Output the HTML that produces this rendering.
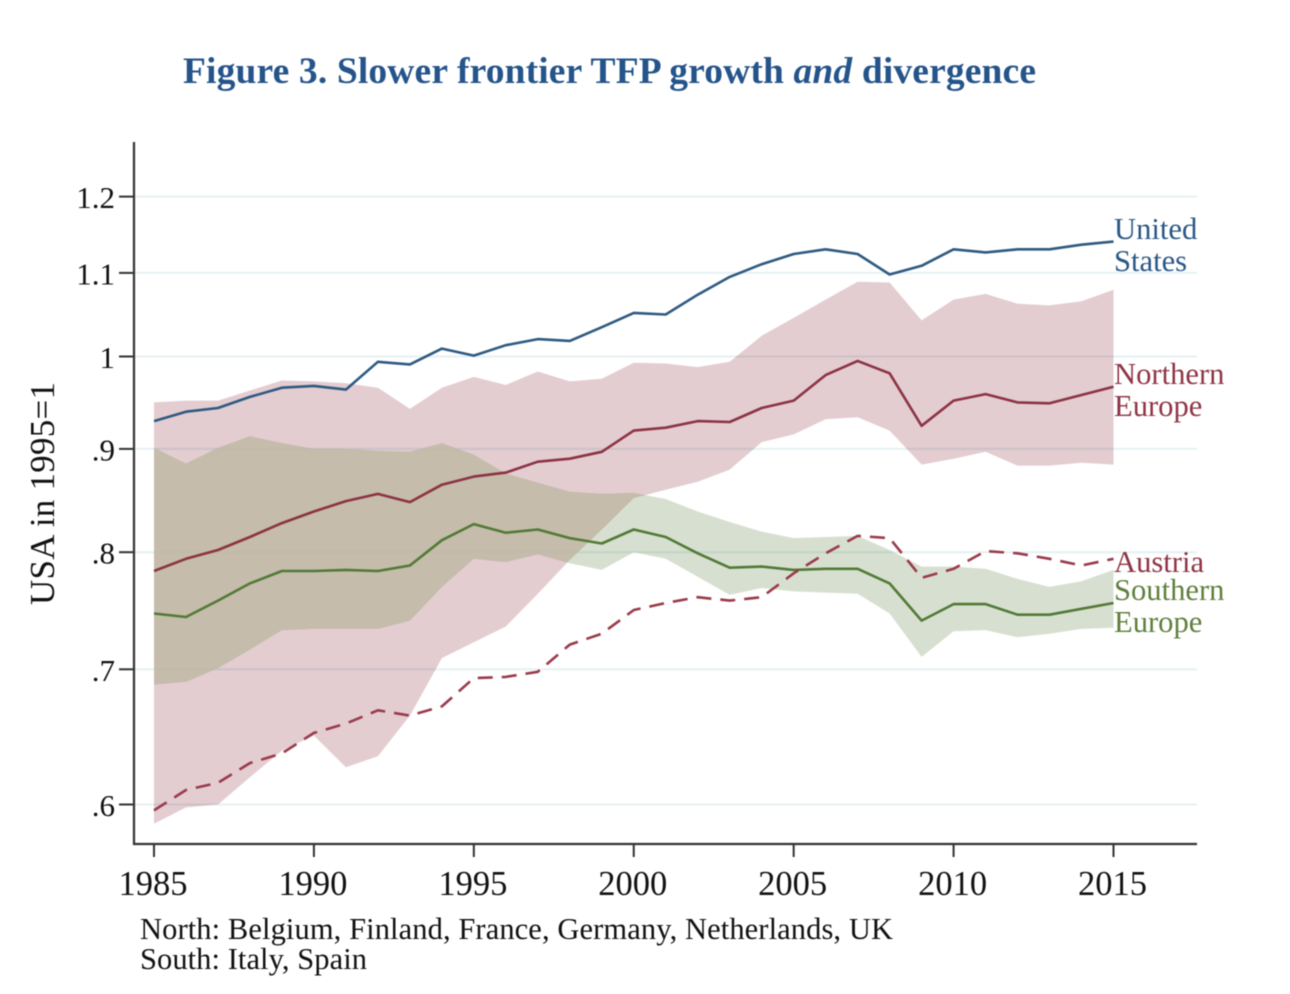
<!DOCTYPE html>
<html>
<head>
<meta charset="utf-8">
<title>Figure 3</title>
<style>
html,body{margin:0;padding:0;background:#fff;width:1290px;height:994px;overflow:hidden}
svg{display:block;filter:blur(0.55px)}
text{font-family:"Liberation Serif",serif}
</style>
</head>
<body>
<svg id="chart" xmlns="http://www.w3.org/2000/svg" width="1290" height="994" viewBox="0 0 1290 994">
  <defs><clipPath id="north-clip"><polygon id="north-clip-shape" points="0,0"/></clipPath></defs>
  <rect x="0" y="0" width="1290" height="994" fill="#fff"/>
  <text x="183" y="83" font-size="37.5" font-weight="bold" fill="#24548a" textLength="853" lengthAdjust="spacing">Figure 3. Slower frontier TFP growth <tspan font-style="italic">and</tspan> divergence</text>
  <g id="grid"></g>
  <g id="bands"></g>
  <g id="lines"></g>
  <g id="axes"></g>
  <text transform="translate(54,605) rotate(-90)" font-size="35" fill="#111" textLength="223" lengthAdjust="spacing">USA in 1995=1</text>
  <g font-size="30.6">
    <text x="1114" y="239" fill="#2a5785">United</text>
    <text x="1114" y="271" fill="#2a5785">States</text>
    <text x="1114" y="384" fill="#8f3445">Northern</text>
    <text x="1114" y="416" fill="#8f3445">Europe</text>
    <text x="1114" y="572" fill="#8f3445">Austria</text>
    <text x="1114" y="600" fill="#5f7f3c">Southern</text>
    <text x="1114" y="632" fill="#5f7f3c">Europe</text>
  </g>
  <text x="140" y="939" font-size="30.5" fill="#111" textLength="753" lengthAdjust="spacing">North: Belgium, Finland, France, Germany, Netherlands, UK</text>
  <text x="140" y="969" font-size="30.5" fill="#111" textLength="227" lengthAdjust="spacing">South: Italy, Spain</text>
</svg>
<script>
const years = [1985,1986,1987,1988,1989,1990,1991,1992,1993,1994,1995,1996,1997,1998,1999,2000,2001,2002,2003,2004,2005,2006,2007,2008,2009,2010,2011,2012,2013,2014,2015];
const xTickLabels = [1985,1990,1995,2000,2005,2010,2015];
const yTickValues = [0.6,0.7,0.8,0.9,1,1.1,1.2];
const yTickLabels = ['.6','.7','.8','.9','1','1.1','1.2'];
const unitedStates = [.929,.939,.943,.955,.965,.967,.963,.994,.991,1.009,1.001,1.013,1.020,1.018,1.034,1.051,1.049,1.073,1.095,1.111,1.124,1.130,1.124,1.098,1.109,1.130,1.126,1.130,1.130,1.136,1.140];
const northMean = [.783,.794,.802,.814,.827,.838,.848,.855,.847,.864,.872,.876,.887,.890,.897,.919,.922,.929,.928,.943,.951,.979,.995,.981,.924,.951,.958,.949,.948,.957,.966];
const northUpper = [.949,.951,.951,.962,.973,.972,.970,.965,.942,.965,.977,.968,.983,.972,.975,.993,.992,.988,.994,1.024,1.045,1.067,1.089,1.088,1.042,1.067,1.074,1.062,1.060,1.065,1.079];
const northLower = [.587,.598,.600,.619,.638,.649,.626,.634,.664,.709,.722,.735,.763,.793,.821,.851,.859,.867,.879,.907,.915,.931,.933,.919,.884,.890,.897,.883,.883,.886,.884];
const southMean = [.746,.743,.757,.772,.783,.783,.784,.783,.788,.811,.826,.818,.821,.813,.808,.821,.814,.799,.786,.787,.784,.785,.785,.772,.740,.754,.754,.745,.745,.750,.755];
const southUpper = [.901,.885,.901,.913,.906,.900,.900,.898,.897,.906,.894,.875,.866,.857,.855,.856,.850,.838,.828,.819,.813,.814,.815,.802,.787,.787,.785,.776,.769,.774,.784];
const southLower = [.688,.690,.701,.716,.732,.733,.733,.733,.740,.769,.794,.791,.798,.790,.784,.800,.794,.778,.762,.768,.765,.764,.763,.746,.710,.731,.732,.726,.729,.733,.734];
const austria = [.596,.610,.615,.629,.636,.651,.658,.668,.664,.671,.693,.694,.698,.720,.729,.749,.755,.760,.757,.760,.781,.799,.815,.813,.777,.785,.801,.799,.794,.788,.794];

const NS = 'http://www.w3.org/2000/svg';
function xScale(year){ return 154 + (year - 1985) * (1113.5 - 154) / 30; }
function yScale(v){ return 356.5 - 877 * Math.log(v); }
function make(tag, parent, attrs){
  const el = document.createElementNS(NS, tag);
  for (const k in attrs) el.setAttribute(k, attrs[k]);
  parent.appendChild(el);
  return el;
}
function pts(values){ return values.map((v,i)=>xScale(years[i]).toFixed(1)+','+yScale(v).toFixed(1)).join(' '); }
function bandPts(upper, lower){
  const lowRev = lower.map((v,i)=>xScale(years[i]).toFixed(1)+','+yScale(v).toFixed(1)).reverse().join(' ');
  return pts(upper)+' '+lowRev;
}

const gridG = document.getElementById('grid');
const bandsG = document.getElementById('bands');
const linesG = document.getElementById('lines');
const axesG = document.getElementById('axes');

document.getElementById('north-clip-shape').setAttribute('points', bandPts(northUpper,northLower));

yTickValues.forEach(function(v){
  const g = make('line', gridG, {x1:134, x2:1197, y1:yScale(v), y2:yScale(v), stroke:'#e6f1f3', 'stroke-width':2});
  
  
});

const northBand = make('polygon', bandsG, {points:bandPts(northUpper,northLower), fill:'#e3cdd1', style:'mix-blend-mode:multiply'});


const southBand = make('polygon', bandsG, {points:bandPts(southUpper,southLower), fill:'#d7e0d0', style:'mix-blend-mode:multiply'});


const overlapBand = make('polygon', bandsG, {points:bandPts(southUpper,southLower), fill:'#c5bdab', 'fill-opacity':0.85, 'clip-path':'url(#north-clip)'});



const lineCommon = {fill:'none','stroke-width':2.6,'stroke-linejoin':'round'};
const usLine = make('polyline', linesG, Object.assign({points:pts(unitedStates), stroke:'#2f5a82'}, lineCommon));


const northLine = make('polyline', linesG, Object.assign({points:pts(northMean), stroke:'#8c3343'}, lineCommon));


const southLine = make('polyline', linesG, Object.assign({points:pts(southMean), stroke:'#527a36'}, lineCommon));


const austriaLine = make('polyline', linesG, Object.assign({points:pts(austria), stroke:'#9a3b4b','stroke-dasharray':'15 9'}, lineCommon));



const yAxis = make('line', axesG, {x1:134, x2:134, y1:142, y2:845, stroke:'#333','stroke-width':2.2});


const xAxis = make('line', axesG, {x1:133, x2:1197, y1:844, y2:844, stroke:'#333','stroke-width':2.2});



yTickValues.forEach(function(v,i){
  const y = yScale(v);
  const tick = make('line', axesG, {x1:119, x2:134, y1:y, y2:y, stroke:'#333','stroke-width':2});
  
  
  const lab = make('text', axesG, {x:115, y:y+11.5, 'font-size':31, 'text-anchor':'end', fill:'#111'});
  
  
  lab.textContent = yTickLabels[i];
});
xTickLabels.forEach(function(yr){
  const x = xScale(yr);
  const tick = make('line', axesG, {x1:x, x2:x, y1:844, y2:857, stroke:'#333','stroke-width':2});
  
  
  const lab = make('text', axesG, {x:x-1, y:895, 'font-size':34.5, 'text-anchor':'middle', fill:'#111'});
  
  
  lab.textContent = yr;
});
</script>
</body>
</html>
